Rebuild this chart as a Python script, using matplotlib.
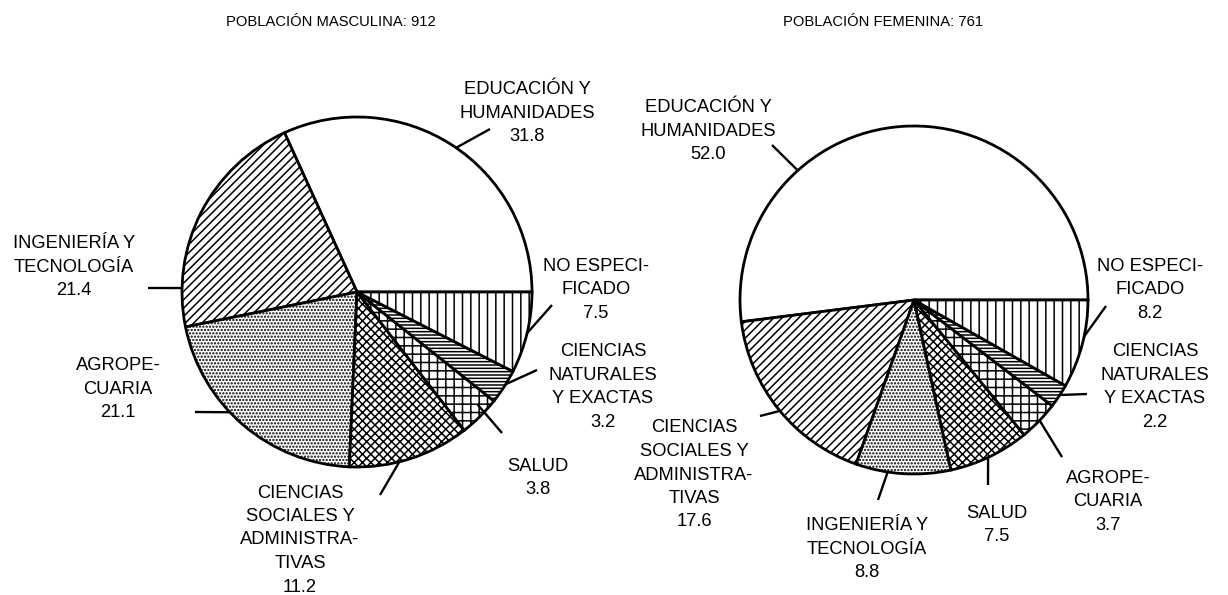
import numpy as np
import matplotlib
matplotlib.use("Agg")
import matplotlib.pyplot as plt

# ---------------- data ----------------
titles = ["POBLACIÓN MASCULINA: 912", "POBLACIÓN FEMENINA: 761"]

male_labels = ["EDUCACIÓN Y\nHUMANIDADES", "INGENIERÍA Y\nTECNOLOGÍA", "AGROPE-\nCUARIA",
               "CIENCIAS\nSOCIALES Y\nADMINISTRA-\nTIVAS", "SALUD",
               "CIENCIAS\nNATURALES\nY EXACTAS", "NO ESPECI-\nFICADO"]
male_values = [31.8, 21.4, 21.1, 11.2, 3.8, 3.2, 7.5]

female_labels = ["EDUCACIÓN Y\nHUMANIDADES", "CIENCIAS\nSOCIALES Y\nADMINISTRA-\nTIVAS",
                 "INGENIERÍA Y\nTECNOLOGÍA", "SALUD", "AGROPE-\nCUARIA",
                 "CIENCIAS\nNATURALES\nY EXACTAS", "NO ESPECI-\nFICADO"]
female_values = [52.0, 17.6, 8.8, 7.5, 3.7, 2.2, 8.2]

# ---------------- layout / style ----------------
W, H = 1228, 595
hatches = ['', '////', '.....', 'xxxx', '++', '-----', '||']

pies = [
    dict(values=male_values, labels=male_labels, center=(357, 292), r=175,
         title_xy=(331, 22),
         ann=[((527, 113), 55.5, 1.0, (490, 129)),
              ((74, 267), 178.7, 1.0, (148, 288)),
              ((118, 389), 223.4, 1.0, (195, 412)),
              ((300, 540), 284.0, 1.0, (380, 495)),
              ((538, 478), 317.0, 0.94, (502, 433)),
              ((603, 387), 328.2, 1.0, (537, 370)),
              ((596, 290), 346.4, 1.0, (552, 305))]),
    dict(values=female_values, labels=female_labels, center=(914, 300), r=174,
         title_xy=(883, 22),
         ann=[((708, 131), 131.9, 1.0, (772, 145)),
              ((694, 475), 219.6, 1.0, (760, 416)),
              ((867, 549), 261.3, 1.0, (878, 500)),
              ((997, 525), 295.2, 1.0, (988, 485)),
              ((1108, 502), 316.2, 1.0, (1062, 457)),
              ((1155, 387), 326.9, 1.0, (1087, 394)),
              ((1150, 290), 347.9, 1.0, (1106, 306))]),
]

plt.rcParams['hatch.linewidth'] = 1.1
label_font = ['Liberation Sans', 'DejaVu Sans']
title_font, title_size = ['Liberation Sans', 'DejaVu Sans'], 10.6

fig = plt.figure(figsize=(W / 100, H / 100), dpi=100)
ax = fig.add_axes([0, 0, 1, 1])


def Y(y):
    return H - y


for p in pies:
    cx, cy = p['center']
    r = p['r']
    ax.pie(p['values'], center=(cx, Y(cy)), radius=r, startangle=0, counterclock=True,
           colors=['white'] * len(p['values']), hatch=hatches,
           wedgeprops=dict(edgecolor='black', linewidth=2.0))
    for lab, val, (txy, ang, rf, end) in zip(p['labels'], p['values'], p['ann']):
        a = np.deg2rad(ang)
        sx = cx + rf * r * np.cos(a)
        sy = Y(cy) + rf * r * np.sin(a)
        ax.plot([sx, end[0]], [sy, Y(end[1])], color='black', lw=1.7, solid_capstyle='butt')
        ax.text(txy[0], Y(txy[1]), f"{lab}\n{val:.1f}", ha='center', va='center',
                multialignment='center', fontsize=13.2, family=label_font, linespacing=1.5)

for p, t in zip(pies, titles):
    ax.text(p['title_xy'][0], Y(p['title_xy'][1]), t, ha='center', va='center',
            fontsize=title_size, family=title_font)

ax.set_xlim(0, W)
ax.set_ylim(0, H)
ax.set_aspect('equal')
ax.axis('off')
fig.savefig('out.png', dpi=100, facecolor='white')
